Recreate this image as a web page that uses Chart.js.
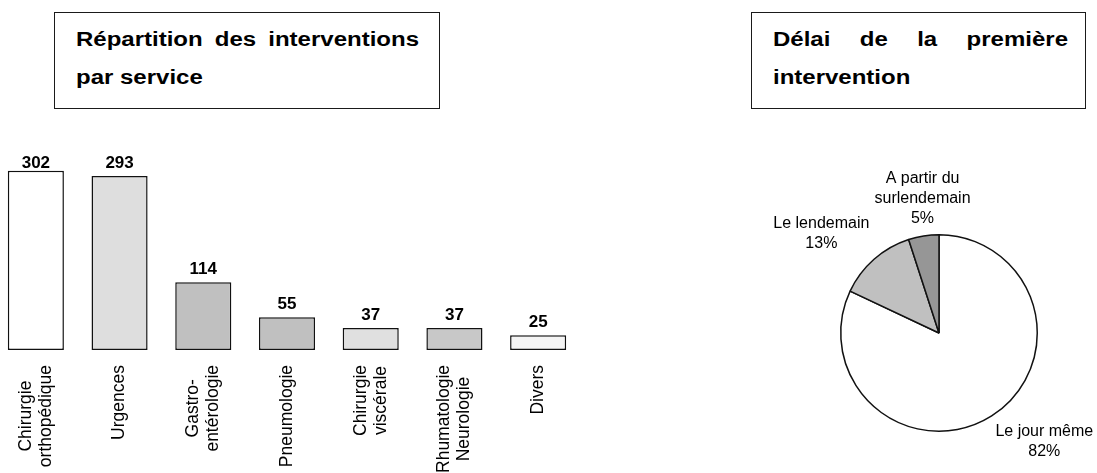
<!DOCTYPE html>
<html lang="fr">
<head>
<meta charset="utf-8">
<title>Interventions</title>
<script src="https://cdn.jsdelivr.net/npm/chart.js@4.4.1/dist/chart.umd.min.js"></script>
<style>
  html, body { margin: 0; padding: 0; background: #fff; }
  body { position: relative; width: 1097px; height: 473px; overflow: hidden;
         font-family: Arial, "Liberation Sans", sans-serif; }
  .titre { position: absolute; box-sizing: border-box; border: 1.5px solid #1a1a1a;
           font-weight: bold; font-size: 20px; line-height: 38px; color: #000;
           padding: 7px 20px 0 21px; }
  /* texte du titre élargi horizontalement */
  .titre .ln { width: 83.333%; transform: scaleX(1.2); transform-origin: 0 0; white-space: nowrap; }
  .titre .l1 { text-align: justify; text-align-last: justify; }
  #boxServices { left: 54px; top: 12px; width: 386px; height: 97px; }
  #boxDelai { left: 751px; top: 12px; width: 335px; height: 97px; padding-right: 17px; }
  #wrapBar { position: absolute; left: -6px; top: 0; width: 586px; height: 473px; }
  #wrapPie { position: absolute; left: 600px; top: 120px; width: 497px; height: 353px; }
</style>
</head>
<body>
<div class="titre" id="boxServices">
  <div class="ln l1">Répartition des interventions</div>
  <div class="ln">par service</div>
</div>
<div class="titre" id="boxDelai">
  <div class="ln l1">Délai de la première</div>
  <div class="ln">intervention</div>
</div>
<div id="wrapBar"><canvas id="barServices"></canvas></div>
<div id="wrapPie"><canvas id="pieDelai"></canvas></div>

<script>
// interventions par service
const services = [
  ['Chirurgie', 'orthopédique'],
  ['Urgences'],
  ['Gastro-', 'entérologie'],
  ['Pneumologie'],
  ['Chirurgie', 'viscérale'],
  ['Rhumatologie', 'Neurologie'],
  ['Divers']
];
const interventions = [302, 293, 114, 55, 37, 37, 25];
const barColors = ['#ffffff', '#dedede', '#c0c0c0', '#c0c0c0', '#e0e0e0', '#c8c8c8', '#f4f4f4'];

// délai de la première intervention (%)
const delais = ['Le jour même', 'Le lendemain', 'A partir du surlendemain'];
const delaiLignes = [['Le jour même'], ['Le lendemain'], ['A partir du', 'surlendemain']];
const delaiPct = [82, 13, 5];
const pieColors = ['#ffffff', '#c0c0c0', '#969696'];

const FONT = 'Arial, "Liberation Sans", sans-serif';

// valeurs au-dessus des barres + libellés verticaux
const barText = {
  id: 'barText',
  afterDatasetsDraw(chart) {
    const ctx = chart.ctx;
    const area = chart.chartArea;
    const xs = chart.scales.x;
    ctx.save();
    ctx.fillStyle = '#000';
    ctx.textAlign = 'center';

    ctx.font = 'bold 17px ' + FONT;
    ctx.textBaseline = 'alphabetic';
    chart.getDatasetMeta(0).data.forEach((bar, i) => {
      const y = Math.max(bar.y - 8, area.top + 14);
      ctx.fillText(String(interventions[i]), bar.x, y);
    });

    ctx.font = '17.5px ' + FONT;
    ctx.textBaseline = 'middle';
    services.forEach((lines, i) => {
      const px = xs.getPixelForTick(i);
      const w = Math.max(...lines.map(l => ctx.measureText(l).width));
      lines.forEach((line, j) => {
        ctx.save();
        ctx.translate(px + (j - (lines.length - 1) / 2) * 20, area.bottom + 15 + w / 2);
        ctx.rotate(-Math.PI / 2);
        ctx.fillText(line, 0, 0);
        ctx.restore();
      });
    });
    ctx.restore();
  }
};

// étiquettes à l'extérieur des secteurs
const pieText = {
  id: 'pieText',
  afterDatasetsDraw(chart) {
    const ctx = chart.ctx;
    ctx.save();
    ctx.font = '16px ' + FONT;
    ctx.fillStyle = '#000';
    ctx.textAlign = 'center';
    ctx.textBaseline = 'middle';
    const k = v => Math.sign(v) * Math.min(1, Math.max(0, (Math.abs(v) - 0.2) / 0.3));
    chart.getDatasetMeta(0).data.forEach((arc, i) => {
      const lines = delaiLignes[i].concat(delaiPct[i] + '%');
      const mid = (arc.startAngle + arc.endAngle) / 2;
      const c = Math.cos(mid), s = Math.sin(mid);
      const rr = arc.outerRadius + 7;
      const w = Math.max(...lines.map(l => ctx.measureText(l).width));
      const h = lines.length * 20;
      const cx = arc.x + rr * c + k(c) * w / 2;
      const cy = arc.y + rr * s + k(s) * h / 2;
      lines.forEach((l, j) => ctx.fillText(l, cx, cy + (j - (lines.length - 1) / 2) * 20));
    });
    ctx.restore();
  }
};

new Chart(document.getElementById('barServices'), {
  type: 'bar',
  data: {
    labels: services,
    datasets: [{
      data: interventions,
      backgroundColor: barColors,
      borderColor: '#111',
      borderWidth: 1.5,
      borderSkipped: false,
      barPercentage: 0.67,
      categoryPercentage: 1
    }]
  },
  options: {
    responsive: true,
    maintainAspectRatio: false,
    animation: false,
    layout: { padding: { top: 154, bottom: 123, left: 0, right: 0 } },
    plugins: {
      legend: { display: false },
      tooltip: { enabled: false }
    },
    scales: {
      x: { display: false },
      y: { display: false, min: 0, max: 330 }
    }
  },
  plugins: [barText]
});

new Chart(document.getElementById('pieDelai'), {
  type: 'pie',
  data: {
    labels: delais,
    datasets: [{
      data: delaiPct,
      backgroundColor: pieColors,
      borderColor: '#111',
      borderWidth: 1.5,
      hoverOffset: 0
    }]
  },
  options: {
    responsive: true,
    maintainAspectRatio: false,
    animation: false,
    layout: { padding: { left: 240, right: 59, top: 114, bottom: 41 } },
    plugins: {
      legend: { display: false },
      tooltip: { enabled: false }
    }
  },
  plugins: [pieText]
});
</script>
</body>
</html>
